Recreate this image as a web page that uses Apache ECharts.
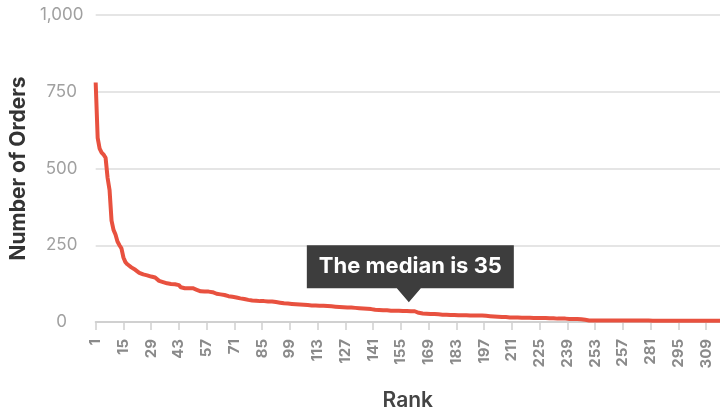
<!DOCTYPE html>
<html>
<head>
<meta charset="utf-8">
<script src="https://cdn.jsdelivr.net/npm/echarts@6/dist/echarts.min.js"></script>
<style>html,body{margin:0;padding:0;background:#fff;}#chart{width:720px;height:416px;}</style>
</head>
<body>
<div id="chart"></div>
<script>
// Number of orders per rank (rank 1 .. 316)
var orders = [
  780,600,565,552,545,535,470,430,330,300,
  285,262,250,240,210,195,188,182,178,174,
  170,165,160,158,155,153,152,150,148,146,
  145,140,134,132,130,128,126,125,124,124,
  123,122,120,113,111,110,110,110,110,110,
  109,105,102,100,99,99,99,99,98,97,
  95,92,91,90,89,88,86,84,83,82,
  81,80,78,77,76,75,74,72,71,70,
  70,69,69,68,68,68,68,67,67,67,
  66,65,64,63,62,61,60,60,59,59,
  58,58,57,57,56,56,55,55,55,54,
  54,54,54,53,53,53,52,52,51,51,
  50,50,50,49,49,48,48,47,47,47,
  46,46,45,45,44,44,43,43,42,42,
  41,40,39,39,39,38,38,38,38,37,
  37,37,37,37,36,36,36,36,35,35,
  35,35,34,30,28,28,28,27,27,26,
  26,26,25,25,25,24,24,24,23,23,
  23,23,23,22,22,22,22,22,22,21,
  21,21,21,21,21,21,20,20,19,19,
  18,18,17,17,16,16,16,16,15,15,
  15,15,15,15,14,14,14,14,14,14,
  14,13,13,13,13,13,13,13,12,12,
  12,12,12,11,11,11,11,11,11,10,
  10,10,10,10,10,9,8,7,6,5,
  5,5,5,5,5,5,5,5,5,5,
  5,5,5,5,5,5,5,5,5,5,
  5,5,5,5,5,5,5,5,5,5,
  4,4,4,4,4,4,4,4,4,4,
  4,4,4,4,4,4,4,4,4,4,
  4,4,4,4,4,4,4,4,4,4,
  4,4,4,4,4,4
];
var ranks = orders.map(function (_, i) { return String(i + 1); });
var tickLabels = ['1','15','29','43','57','71','85','99','113','127','141','155','169','183','197','211','225','239','253','257','281','295','309'];
var yTicks = [0, 250, 500, 750, 1000];
var medianRank = '159';
var medianValue = 35;
var medianText = 'The median is 35';

var FONT = 'Inter, "Noto Sans", sans-serif';
var chart = echarts.init(document.getElementById('chart'), null, {renderer: 'canvas'});
chart.setOption({
  animation: false,
  grid: {left: 90, right: 0, top: 15, bottom: 93},
  xAxis: {
    type: 'category',
    data: ranks,
    boundaryGap: false,
    name: 'Rank',
    nameLocation: 'middle',
    nameGap: 68,
    nameTextStyle: {fontFamily: FONT, fontSize: 21, fontWeight: 600, color: '#444'},
    axisLine: {lineStyle: {color: '#d0d0d0', width: 2}},
    axisTick: {interval: 13, length: 8, lineStyle: {color: '#d0d0d0', width: 1.5}},
    axisLabel: {
      interval: 13, rotate: 90, margin: 17,
      fontFamily: FONT, fontSize: 15, fontWeight: 700, color: '#8a8a8a',
      formatter: function (v, idx) { return tickLabels[Math.round(idx / 14)]; }
    },
    splitLine: {show: false}
  },
  yAxis: {
    type: 'value',
    min: yTicks[0], max: yTicks[yTicks.length - 1], interval: 250,
    name: 'Number of Orders',
    nameLocation: 'middle',
    nameGap: 63,
    nameTextStyle: {fontFamily: FONT, fontSize: 21, fontWeight: 700, color: '#333'},
    axisLine: {show: false},
    axisTick: {show: false},
    axisLabel: {
      margin: 34, align: 'center',
      fontFamily: FONT, fontSize: 17, color: '#a0a0a0',
      formatter: function (v) { return v.toLocaleString('en-US'); }
    },
    splitLine: {lineStyle: {color: '#dcdcdc', width: 1.5}}
  },
  series: [{
    type: 'line',
    data: orders,
    showSymbol: false,
    symbol: 'none',
    lineStyle: {color: '#e8513f', width: 4},
    markPoint: {
      symbol: 'path://M0,0H207V43H114L102,57L90,43H0Z',
      symbolSize: [207, 57],
      symbolKeepAspect: false,
      symbolOffset: [1.5, -37.5],
      itemStyle: {color: '#3d3d3d'},
      label: {
        show: true, position: 'inside', offset: [0, -7],
        formatter: medianText,
        fontFamily: FONT, fontSize: 22, fontWeight: 700, color: '#fff'
      },
      data: [{coord: [medianRank, medianValue]}]
    }
  }]
});
</script>
</body>
</html>
